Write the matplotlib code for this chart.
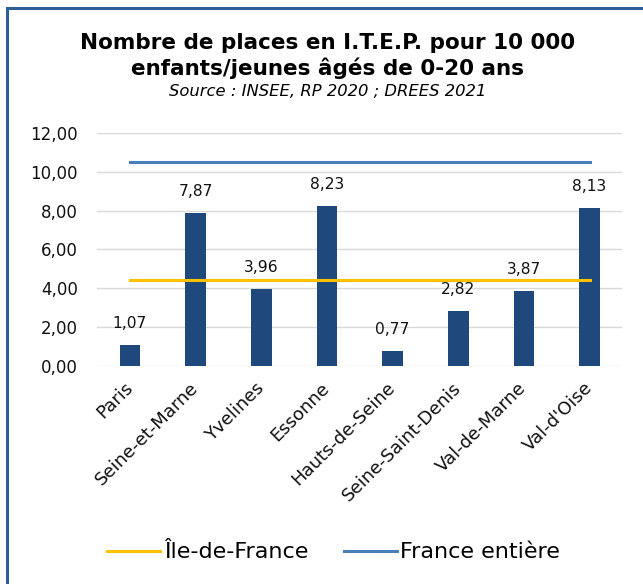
import matplotlib.pyplot as plt
from matplotlib.lines import Line2D
from matplotlib.patches import Rectangle
from matplotlib.ticker import FuncFormatter

# ── Data ──────────────────────────────────────────────────────────────────────
DEPARTEMENTS = ["Paris", "Seine-et-Marne", "Yvelines", "Essonne",
                "Hauts-de-Seine", "Seine-Saint-Denis", "Val-de-Marne", "Val-d'Oise"]
PLACES = [1.07, 7.87, 3.96, 8.23, 0.77, 2.82, 3.87, 8.13]
IDF_MOYENNE = 4.40
FRANCE_MOYENNE = 10.53
Y_TICKS = [0, 2, 4, 6, 8, 10, 12]

BAR_COLOR = "#1F497D"
IDF_COLOR = "#FFC000"
FR_COLOR = "#4A7EBB"


def fr_num(v, pos=None):
    return f"{v:.2f}".replace(".", ",")


plt.rcParams["font.family"] = "DejaVu Sans"

fig = plt.figure(figsize=(6.43, 5.84), dpi=100)
ax = fig.add_axes([0.151, 0.374, 0.817, 0.398])

x = list(range(len(DEPARTEMENTS)))
ax.bar(x, PLACES, width=0.315, color=BAR_COLOR, zorder=2)
for xi, v in zip(x, PLACES):
    ax.annotate(fr_num(v), (xi, v), xytext=(0, 15.5), textcoords="offset points",
                ha="center", va="center", fontsize=11.2, color="#111111")

ax.plot([x[0], x[-1]], [IDF_MOYENNE] * 2, color=IDF_COLOR, lw=2.2, zorder=3)
ax.plot([x[0], x[-1]], [FRANCE_MOYENNE] * 2, color=FR_COLOR, lw=2.2, zorder=3)

ax.set_xlim(-0.5, len(x) - 0.5)
ax.set_ylim(0, 12)
ax.set_yticks(Y_TICKS)
ax.yaxis.set_major_formatter(FuncFormatter(fr_num))
ax.grid(axis="y", color="#D9D9D9", lw=1, zorder=0)
for s in ax.spines.values():
    s.set_visible(False)
ax.tick_params(axis="both", length=0, colors="#111111")
ax.tick_params(axis="y", pad=14, labelsize=12)
ax.set_xticks(x)
ax.set_xticklabels(DEPARTEMENTS, rotation=45, ha="right", rotation_mode="anchor",
                   va="center", fontsize=13)
ax.tick_params(axis="x", pad=14)

fig.text(0.51, 0.926, "Nombre de places en I.T.E.P. pour 10 000",
         ha="center", va="center", fontsize=15.5, fontweight="bold")
fig.text(0.51, 0.883, "enfants/jeunes âgés de 0-20 ans",
         ha="center", va="center", fontsize=15.5, fontweight="bold")
fig.text(0.51, 0.844, "Source : INSEE, RP 2020 ; DREES 2021",
         ha="center", va="center", fontsize=11.8, style="italic")

handles = [Line2D([], [], color=IDF_COLOR, lw=2.2),
           Line2D([], [], color=FR_COLOR, lw=2.2)]
fig.legend(handles, ["Île-de-France", "France entière"], loc="center",
           bbox_to_anchor=(0.519, 0.054), ncol=2, frameon=False, fontsize=16,
           handlelength=2.4, handletextpad=0.15, columnspacing=1.6,
           borderpad=0, borderaxespad=0)

# outer frame (only top/left visible in the crop)
fig.patches.append(Rectangle((7 / 643, -0.05), 1.2, 1 - 8 / 584 + 0.05,
                             transform=fig.transFigure, fill=False,
                             edgecolor="#2F5D95", lw=2.2))

fig.savefig("out.png", dpi=100)
